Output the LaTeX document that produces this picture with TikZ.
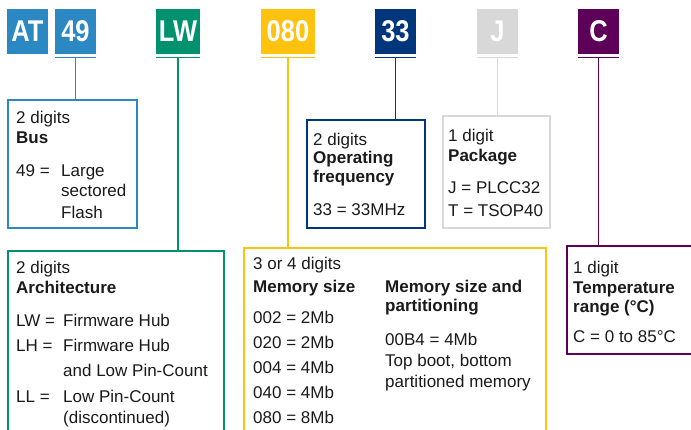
\documentclass[tikz,border=0pt]{standalone}
\usepackage{fontspec}
\setmainfont{Liberation Sans}
\newfontfamily\labfont{Liberation Sans}[FakeStretch=0.85]
\definecolor{cblue}{HTML}{2C88C3}
\definecolor{cgreen}{HTML}{00926F}
\definecolor{cyellow}{HTML}{FFC30F}
\definecolor{cnavy}{HTML}{00367C}
\definecolor{cgrey}{HTML}{D8D8D8}
\definecolor{cpurple}{HTML}{5D0058}
\definecolor{ctext}{HTML}{1A1A1A}
\begin{document}
\begin{tikzpicture}[x=1pt,y=-1pt,
  lab/.style={fill=#1, text=white, minimum width=41pt, minimum height=45pt, inner sep=0pt,
    font=\labfont\bfseries\fontsize{30}{30}\selectfont},
  uline/.style={draw=#1, line width=1.4pt},
  dbox/.style={draw=#1, line width=1.5pt, anchor=north west, inner sep=0pt},
  conn/.style={draw=#1, line width=1.5pt},
  txt/.style={anchor=base west, inner sep=0pt, text=ctext, font=\fontsize{17}{20}\selectfont},
  ttl/.style={txt, font=\bfseries\fontsize{17}{20}\selectfont}]
\useasboundingbox (0,0) rectangle (691,429);
\clip (0,0) rectangle (691,429);

% top code boxes
\node[lab=cblue] (nAT) at (27.5,31.5) {AT};
\node[lab=cblue] (n49) at (75.5,31.5) {49};
\node[lab=cgreen, minimum width=44pt] (nLW) at (178,31.5) {LW};
\node[lab=cyellow, minimum width=54pt] (n080) at (288,31.5) {080};
\node[lab=cnavy] (n33) at (395.5,31.5) {33};
\node[lab=cgrey] (nJ) at (497.5,31.5) {J};
\node[lab=cpurple] (nC) at (598.5,31.5) {C};

% underlines
\foreach \n/\c in {n49/cblue,nLW/cgreen,n080/cyellow,n33/cnavy,nJ/cgrey,nC/cpurple}{
  \draw[uline=\c] ([yshift=-3pt]\n.south west) -- ([yshift=-3pt]\n.south east);
}

% description boxes
\node[dbox=cblue, minimum width=129pt, minimum height=128pt] (busbox) at (7,99) {};
\node[dbox=cgreen, minimum width=216pt, minimum height=250pt] (archbox) at (7,250) {};
\node[dbox=cyellow, minimum width=302pt, minimum height=250pt] (membox) at (243,247) {};
\node[dbox=cnavy, minimum width=118pt, minimum height=108pt] (freqbox) at (306,119) {};
\node[dbox=cgrey, minimum width=107pt, minimum height=112pt] (packbox) at (442,115) {};
\node[dbox=cpurple, minimum width=200pt, minimum height=108pt] (tempbox) at (566,245) {};

% connectors
\draw[conn=cblue] ([yshift=-3pt]n49.south) -- (busbox.north -| n49.south);
\draw[conn=cgreen] ([yshift=-3pt]nLW.south) -- (archbox.north -| nLW.south);
\draw[conn=cyellow] ([yshift=-3pt]n080.south) -- (membox.north -| n080.south);
\draw[conn=cnavy] ([yshift=-3pt]n33.south) -- (freqbox.north -| n33.south);
\draw[conn=cgrey] ([yshift=-3pt]nJ.south) -- (packbox.north -| nJ.south);
\draw[conn=cpurple] ([yshift=-3pt]nC.south) -- (tempbox.north -| nC.south);

% Bus box text
\node[txt] (b1) at (16,123) {2 digits};
\node[ttl] (b2) at (16,143) {Bus};
\node[txt] (b3) at (16,176) {49 =};
\node[txt] (b4) at (61,176) {Large};
\node[txt] (b5) at (61,196) {sectored};
\node[txt] (b6) at (61,218) {Flash};

% Architecture box text
\node[txt] (a1) at (16,273) {2 digits};
\node[ttl] (a2) at (16,293) {Architecture};
\node[txt] (a3) at (16,326) {LW =};
\node[txt] (a4) at (63,326) {Firmware Hub};
\node[txt] (a5) at (16,351) {LH =};
\node[txt] (a6) at (63,351) {Firmware Hub};
\node[txt] (a7) at (63,376) {and Low Pin-Count};
\node[txt] (a8) at (16,402) {LL =};
\node[txt] (a9) at (63,402) {Low Pin-Count};
\node[txt] (a10) at (63,423) {(discontinued)};

% Memory box text
\node[txt] (m1) at (253,269) {3 or 4 digits};
\node[ttl] (m2) at (253,292) {Memory size};
\node[txt] (m3) at (253,323) {002 = 2Mb};
\node[txt] (m4) at (253,348) {020 = 2Mb};
\node[txt] (m5) at (253,373) {004 = 4Mb};
\node[txt] (m6) at (253,398) {040 = 4Mb};
\node[txt] (m7) at (253,423) {080 = 8Mb};
\node[ttl] (m8) at (385,292) {Memory size and};
\node[ttl] (m9) at (385,311) {partitioning};
\node[txt] (m10) at (385,345) {00B4 = 4Mb};
\node[txt] (m11) at (385,366) {Top boot, bottom};
\node[txt] (m12) at (385,387) {partitioned memory};

% Frequency box text
\node[txt] (f1) at (313,145) {2 digits};
\node[ttl] (f2) at (313,163) {Operating};
\node[ttl] (f3) at (313,182) {frequency};
\node[txt] (f4) at (313,215) {33 = 33MHz};

% Package box text
\node[txt] (p1) at (448,141) {1 digit};
\node[ttl] (p2) at (448,161) {Package};
\node[txt] (p3) at (448,193) {J = PLCC32};
\node[txt] (p4) at (448,216) {T = TSOP40};

% Temperature box text
\node[txt] (t1) at (573,273) {1 digit};
\node[ttl] (t2) at (573,293) {Temperature};
\node[ttl] (t3) at (573,312) {range (°C)};
\node[txt] (t4) at (573,342) {C = 0 to 85°C};
\end{tikzpicture}
\end{document}
